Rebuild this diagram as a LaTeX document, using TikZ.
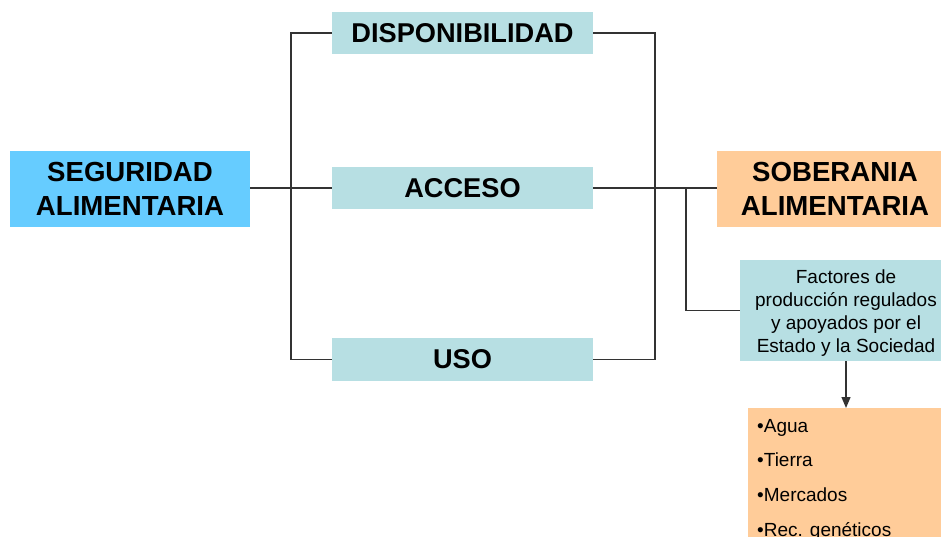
\documentclass[tikz,border=0pt]{standalone}
\usepackage{fontspec}
\setmainfont{Liberation Sans}
\usetikzlibrary{arrows.meta}
\definecolor{seg}{HTML}{66CCFF}
\definecolor{teal}{HTML}{B7DFE3}
\definecolor{sob}{HTML}{FFCC99}
\definecolor{ln}{HTML}{333333}
\tikzset{
  bigbox/.style={minimum width=#1, minimum height=76pt, inner sep=0pt, align=center, font=\fontsize{27.6}{33.5}\selectfont\bfseries},
  pillar/.style={fill=teal, minimum width=261pt, minimum height=42pt, inner sep=0pt, font=\fontsize{27.2}{28}\selectfont\bfseries},
  conn/.style={draw=ln, line width=1.2pt},
  plain/.style={inner sep=0pt, font=\fontsize{19}{23}\selectfont},
}
\begin{document}
\begin{tikzpicture}[x=1pt,y=-1pt]
\useasboundingbox (0,0) rectangle (941,537);
\node[bigbox=240pt, fill=seg] (seg) at (130,189) {SEGURIDAD\\ALIMENTARIA};
\node[pillar] (disp) at (462.5,33) {DISPONIBILIDAD};
\node[pillar] (acc) at (462.5,188) {ACCESO};
\node[pillar, minimum height=43pt] (uso) at (462.5,359.5) {USO};
\node[bigbox=236pt, fill=sob] (sob) at (835,189) {SOBERANIA\\ALIMENTARIA};
\node[fill=teal, minimum width=212pt, minimum height=101pt, inner sep=0pt] (fac) at (846,310.5) {};
\node[plain, align=center] (factxt) at (846,313.5) {Factores de\\producción regulados\\y apoyados por el\\Estado y la Sociedad};
\node[fill=sob, minimum width=210pt, minimum height=140pt, inner sep=0pt, anchor=north west] (list) at (748,408) {};
\node[plain, anchor=north west, align=left, font=\fontsize{19}{34.7}\selectfont] (items) at (757,419) {•Agua\\•Tierra\\•Mercados\\•Rec. genéticos};
\coordinate (L) at (291,188);
\coordinate (R) at (655,188);
\coordinate (B) at (686,188);
\draw[conn] (seg.east |- acc.west) -- (acc.west);
\draw[conn] (disp.west) -| (L) |- (uso.west);
\draw[conn] (disp.east) -| (R) |- (uso.east);
\draw[conn] (acc.east) -- (sob.west |- acc.east);
\draw[conn] (B) |- (fac.west);
\draw[conn, -{Triangle[length=11pt,width=9pt]}] (fac.south) -- (fac.south |- list.north);
\end{tikzpicture}
\end{document}
